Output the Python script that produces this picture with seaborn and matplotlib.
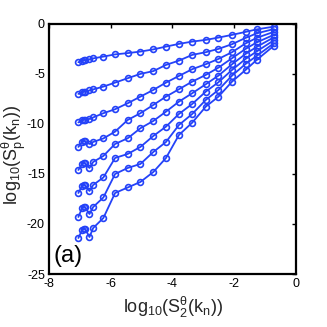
import numpy as np
import pandas as pd
import matplotlib
matplotlib.use("Agg")
import matplotlib.pyplot as plt
import seaborn as sns

# x = log10(S2(kn)) shared by all curves
x_vals = [-7.05, -6.93, -6.88, -6.83, -6.69, -6.57, -6.24, -5.86, -5.45, -5.04,
          -4.62, -4.21, -3.79, -3.36, -2.92, -2.51, -2.07, -1.63, -1.27, -0.72]

curve_p1 = [-3.83, -3.70, -3.66, -3.62, -3.55, -3.45, -3.27, -3.05, -2.92, -2.77,
            -2.55, -2.27, -2.00, -1.77, -1.60, -1.37, -1.10, -0.80, -0.55, -0.28]
curve_p2 = [-7.00, -6.85, -6.80, -6.76, -6.65, -6.55, -6.27, -5.87, -5.43, -5.00,
            -4.72, -4.10, -3.67, -3.10, -2.83, -2.50, -2.03, -1.40, -0.95, -0.52]
curve_p3 = [-9.85, -9.65, -9.60, -9.56, -9.50, -9.35, -8.93, -8.53, -7.93, -7.27,
            -6.60, -5.87, -5.20, -4.53, -4.03, -3.50, -2.83, -1.95, -1.40, -0.80]
curve_p4 = [-12.30, -11.80, -11.70, -11.75, -12.00, -11.80, -11.45, -10.77, -9.60, -8.93,
            -8.10, -7.27, -6.53, -5.77, -5.10, -4.37, -3.43, -2.50, -1.85, -1.10]
curve_p5 = [-14.60, -14.00, -13.90, -13.95, -14.40, -13.80, -13.20, -12.00, -11.43, -10.43,
            -9.70, -8.77, -7.77, -6.93, -6.03, -5.17, -4.03, -3.00, -2.30, -1.35]
curve_p6 = [-16.90, -16.20, -16.10, -16.15, -16.70, -16.10, -15.35, -13.40, -13.00, -12.30,
            -11.20, -10.27, -9.00, -8.00, -6.77, -5.83, -4.60, -3.50, -2.75, -1.65]
curve_p7 = [-19.30, -18.40, -18.30, -18.35, -19.00, -18.30, -17.35, -15.00, -14.40, -14.00,
            -12.80, -11.80, -10.10, -9.00, -7.60, -6.60, -5.17, -4.00, -3.20, -1.95]
curve_p8 = [-21.40, -20.60, -20.50, -20.50, -21.30, -20.40, -19.40, -16.90, -16.35, -15.80,
            -14.80, -13.40, -11.10, -9.87, -8.27, -7.27, -5.77, -4.60, -3.60, -2.20]

curves = [curve_p1, curve_p2, curve_p3, curve_p4, curve_p5, curve_p6, curve_p7, curve_p8]

x_ticks = [-8, -6, -4, -2, 0]
y_ticks = [0, -5, -10, -15, -20, -25]

rows = []
for ci, ys in enumerate(curves):
    for i, (xv, yv) in enumerate(zip(x_vals, ys)):
        rows.append({"x": xv, "y": yv, "curve": ci + 1, "order": i})
df = pd.DataFrame(rows)

sns.set_theme(style="white")
plt.rcParams["font.family"] = ["Liberation Sans", "DejaVu Sans"]
plt.rcParams["mathtext.fontset"] = "custom"
plt.rcParams["mathtext.rm"] = "Liberation Sans"
plt.rcParams["mathtext.it"] = "Liberation Sans"
plt.rcParams["mathtext.sf"] = "Liberation Sans"

blue = "#2442f8"

fig = plt.figure(figsize=(3.27, 3.27), dpi=100)
ax = fig.add_axes([0.150, 0.162, 0.755, 0.765])

sns.lineplot(data=df, x="x", y="y", units="curve", estimator=None, sort=False,
             color=blue, marker="o", markersize=4.2, markerfacecolor="none",
             markeredgecolor=blue, markeredgewidth=1.2, linewidth=1.3, ax=ax,
             legend=False)

ax.set_xlim(-8, 0)
ax.set_ylim(-25, 0)
ax.set_xticks(x_ticks)
ax.set_yticks(y_ticks)
ax.set_xticklabels([str(t) for t in x_ticks])
ax.set_yticklabels([str(t) for t in y_ticks])
ax.tick_params(direction="in", length=3, width=1.0, top=True, right=True,
               labelsize=9, colors="black", pad=3)
for s in ax.spines.values():
    s.set_visible(True)
    s.set_color("black")
    s.set_linewidth(1.6)

ax.set_xlabel(r"$\mathrm{log}_{10}(\mathrm{S}_{2}^{\theta}(\mathrm{k}_{n}))$", fontsize=13)
ax.set_ylabel(r"$\mathrm{log}_{10}(\mathrm{S}_{\mathrm{p}}^{\theta}(\mathrm{k}_{n}))$", fontsize=13)
ax.xaxis.set_label_coords(0.5, -0.085)
ax.yaxis.set_label_coords(-0.085, 0.475)

ax.text(-7.85, -23.2, "(a)", fontsize=17, ha="left", va="center", color="black")

fig.savefig("out.png", dpi=100)
